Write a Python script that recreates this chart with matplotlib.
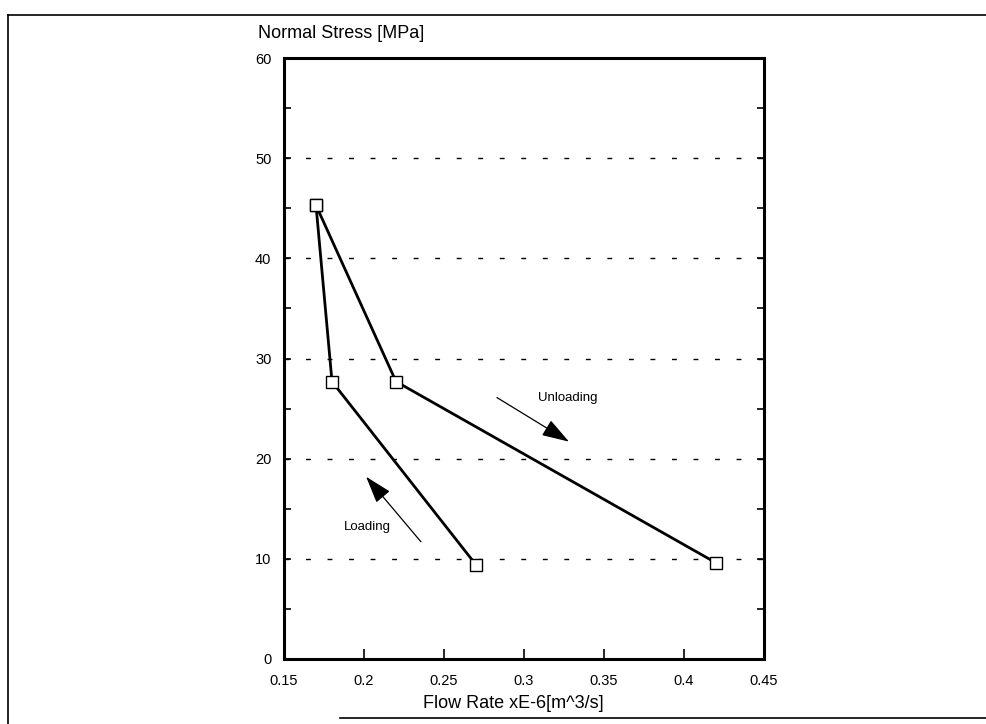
import matplotlib
matplotlib.use("Agg")
import matplotlib.pyplot as plt
from matplotlib.lines import Line2D
from matplotlib.ticker import MultipleLocator, FixedLocator

plt.rcParams['font.family'] = ['Liberation Sans', 'DejaVu Sans']

# Data
loading_x = [0.27, 0.18, 0.17]
loading_y = [9.4, 27.7, 45.3]
unloading_x = [0.17, 0.22, 0.42]
unloading_y = [45.3, 27.7, 9.6]

x_ticks = [0.15, 0.2, 0.25, 0.3, 0.35, 0.4, 0.45]
x_tick_labels = ["0.15", "0.2", "0.25", "0.3", "0.35", "0.4", "0.45"]
y_ticks = [0, 10, 20, 30, 40, 50, 60]
grid_levels = [10, 20, 30, 40, 50]

W, H = 987, 724
fig = plt.figure(figsize=(W / 100, H / 100), dpi=100)
ax = fig.add_axes([284 / W, 1 - 659 / H, 480 / W, 601 / H])

ax.set_xlim(0.15, 0.45)
ax.set_ylim(0, 60)

for g in grid_levels:
    ax.axhline(g, color='black', lw=1.0, ls=(0, (3.5, 12)), zorder=1)

for xs, ys in ((loading_x, loading_y), (unloading_x, unloading_y)):
    ax.plot(xs, ys, color='black', lw=2.0, zorder=3)
    ax.plot(xs, ys, ls='none', marker='s', ms=9, mfc='white', mec='black',
            mew=1.0, zorder=4)

# Arrows and labels
arrow = dict(arrowstyle='-|>,head_length=1.7,head_width=0.55',
             color='black', lw=0.9, shrinkA=0, shrinkB=0)
ax.annotate("", xy=(0.3281, 21.7), xytext=(0.2831, 26.1), arrowprops=arrow)
ax.text(0.3275, 26.1, "Unloading", fontsize=9.5, ha='center', va='center')
ax.annotate("", xy=(0.2013, 18.2), xytext=(0.2356, 11.7), arrowprops=arrow)
ax.text(0.2019, 13.2, "Loading", fontsize=9.5, ha='center', va='center')

ax.xaxis.set_major_locator(FixedLocator(x_ticks))
ax.set_xticklabels(x_tick_labels)
ax.yaxis.set_major_locator(FixedLocator(y_ticks))
ax.yaxis.set_minor_locator(MultipleLocator(5))
ax.tick_params(axis='both', which='both', direction='in', labelsize=10.5,
               color='black')
ax.tick_params(axis='x', which='major', length=7, width=1.2, pad=11, top=False)
ax.tick_params(axis='y', which='major', length=5, width=1.2, pad=9, right=True)
ax.tick_params(axis='y', which='minor', length=5, width=1.2, right=True)

for s in ax.spines.values():
    s.set_linewidth(2.2)
    s.set_color('black')

fig.text(258 / W, 1 - 38 / H, "Normal Stress [MPa]", fontsize=13,
         ha='left', va='baseline')
fig.text(513 / W, 1 - 708 / H, "Flow Rate xE-6[m^3/s]", fontsize=13,
         ha='center', va='baseline')

# Outer frame
fl, fr, ft, fb = 8 / W, 0.999, 1 - 15 / H, 1 - 718 / H
for xs, ys in (([fl, fl], [fb - 0.02, ft]), ([fl, fr], [ft, ft]),
               ([340 / W, fr], [fb, fb])):
    fig.add_artist(Line2D(xs, ys, transform=fig.transFigure, color='black',
                          lw=1.2))

fig.savefig("out.png", dpi=100, facecolor='white')
